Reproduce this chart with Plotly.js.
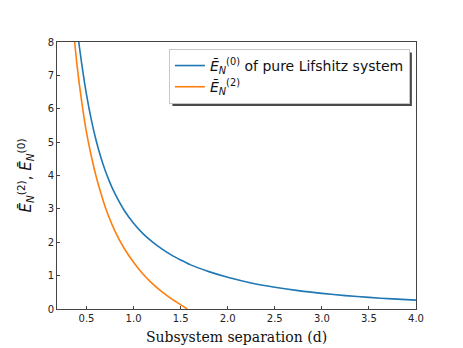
<!DOCTYPE html>
<html>
<head>
<meta charset="utf-8">
<script src="https://cdn.plot.ly/plotly-3.0.1.min.js"></script>
<style>
  body { margin: 0; background: #fff; }
  #plot { width: 463px; height: 348px; }
</style>
</head>
<body>
<div id="plot"></div>
<script>
// Blue curve: pure Lifshitz system
var dPure = [0.418, 0.45, 0.5, 0.55, 0.6, 0.65, 0.7, 0.75, 0.8, 0.9, 1.0, 1.1, 1.2, 1.3, 1.4, 1.5,
  1.6, 1.8, 2.0, 2.25, 2.5, 2.75, 3.0, 3.25, 3.5, 3.75, 4.0];
var ePure = [8.0, 7.34, 6.43, 5.69, 5.08, 4.57, 4.14, 3.78, 3.47, 2.96, 2.57, 2.26, 2.01, 1.80, 1.62, 1.47,
  1.33, 1.12, 0.95, 0.78, 0.654, 0.55, 0.468, 0.401, 0.347, 0.303, 0.266];

// Orange curve: second order
var dSecond = [0.375, 0.4, 0.45, 0.5, 0.55, 0.6, 0.65, 0.7, 0.8, 0.9, 1.0, 1.1, 1.2, 1.3, 1.4, 1.5, 1.57];
var eSecond = [8.0, 7.3, 6.2, 5.3, 4.6, 4.0, 3.5, 3.05, 2.35, 1.82, 1.4, 1.05, 0.76, 0.52, 0.31, 0.13, 0.0];

var trace1 = {
  x: dPure,
  y: ePure,
  name: "<i>Ē</i><sub><i>N</i></sub><sup>(0)</sup> of pure Lifshitz system",
  type: "scatter",
  mode: "lines",
  line: { color: "#1f77b4", width: 1.6, shape: "spline", smoothing: 0.8 }
};

var trace2 = {
  x: dSecond,
  y: eSecond,
  name: "<i>Ē</i><sub><i>N</i></sub><sup>(2)</sup>",
  type: "scatter",
  mode: "lines",
  line: { color: "#ff7f0e", width: 1.6, shape: "spline", smoothing: 0.8 }
};

var layout = {
  width: 463,
  height: 348,
  margin: { l: 57, r: 47, t: 42, b: 39 },
  paper_bgcolor: "#fff",
  plot_bgcolor: "#fff",
  font: { family: "DejaVu Sans", size: 10, color: "#222" },
  showlegend: true,
  legend: {
    x: 0.983, y: 0.974, xanchor: "right", yanchor: "top",
    bgcolor: "#fff", bordercolor: "#c8c8c8", borderwidth: 1,
    font: { family: "DejaVu Sans", size: 14, color: "#111" },
    tracegroupgap: 0
  },
  xaxis: {
    range: [0.187, 4.0],
    tick0: 0.5, dtick: 0.5, tickformat: ".1f",
    ticks: "inside", ticklen: 3, tickcolor: "#444",
    showgrid: false, zeroline: false,
    showline: true, mirror: true, linecolor: "#444", linewidth: 1,
    tickfont: { size: 10 },
    title: { text: "Subsystem separation (d)", font: { family: "DejaVu Serif", size: 14, color: "#111" }, standoff: 9 }
  },
  yaxis: {
    range: [0, 8],
    dtick: 1,
    ticks: "inside", ticklen: 3, tickcolor: "#444",
    showgrid: false, zeroline: false,
    showline: true, mirror: true, linecolor: "#444", linewidth: 1,
    tickfont: { size: 10 },
    title: { text: "<i>Ē</i><sub><i>N</i></sub><sup>(2)</sup>, <i>Ē</i><sub><i>N</i></sub><sup>(0)</sup>", font: { size: 15, color: "#111" }, standoff: 12 }
  }
};

Plotly.newPlot("plot", [trace1, trace2], layout, { displayModeBar: false }).then(function (gd) {
  // legend drop shadow, sized from the drawn legend box
  var box = gd.querySelector(".legend .bg").getBoundingClientRect();
  var host = gd.getBoundingClientRect();
  var sz = gd._fullLayout._size;
  var px = function (v) { return (v - host.left - sz.l) / sz.w; };
  var py = function (v) { return 1 - (v - host.top - sz.t) / sz.h; };
  Plotly.relayout(gd, {
    shapes: [{
      type: "rect", xref: "paper", yref: "paper", layer: "above",
      x0: px(box.left + 3), x1: px(box.right + 2.5),
      y0: py(box.bottom + 2.5), y1: py(box.top + 3),
      fillcolor: "#4a4a4a", line: { width: 0 }
    }]
  });
});
</script>
</body>
</html>
